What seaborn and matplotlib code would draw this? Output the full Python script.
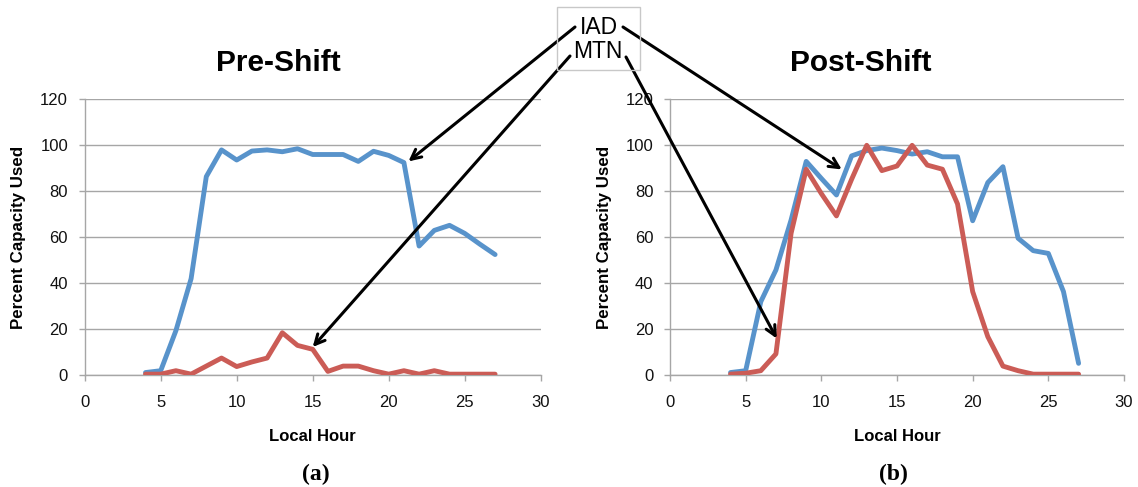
import numpy as np
import pandas as pd
import matplotlib
matplotlib.use("Agg")
import matplotlib.pyplot as plt
import seaborn as sns
from matplotlib.patches import Rectangle

# ---- data ----
hours = list(range(4, 28))
pre_iad = [1.2, 2, 19.4, 42, 86.4, 98, 93.6, 97.5, 98, 97.2, 98.5, 96, 96, 96,
           93, 97.4, 95.6, 92.5, 56.2, 63, 65.2, 61.7, 57, 52.5]
pre_mtn = [0.5, 0.5, 2, 0.5, 4, 7.5, 3.8, 5.8, 7.5, 18.5, 13, 11.3, 1.7, 4,
           4, 2, 0.5, 2, 0.5, 2, 0.5, 0.5, 0.5, 0.5]
post_iad = [1.2, 2, 32, 45.8, 67.5, 93, 85.6, 78.4, 95.4, 97.7, 98.8, 97.7, 96.2, 97.2,
            95, 95, 67.2, 83.8, 90.7, 59.6, 54.2, 53, 36.4, 5.2]
post_mtn = [0.5, 0.9, 2, 9.3, 61.7, 89.6, 79, 69.3, 85.2, 100, 89, 91, 100, 91.4,
            89.6, 74.5, 36.4, 16.8, 4, 2, 0.5, 0.5, 0.5, 0.5]
series_names = ["IAD", "MTN"]
titles = ["Pre-Shift", "Post-Shift"]
panel_labels = ["(a)", "(b)"]
x_ticks = [0, 5, 10, 15, 20, 25, 30]
y_ticks = [0, 20, 40, 60, 80, 100, 120]

sns.set_style("white")
plt.rcParams["font.family"] = ["Liberation Sans", "DejaVu Sans"]
plt.rcParams["text.color"] = "black"
plt.rcParams["axes.labelcolor"] = "black"
plt.rcParams["xtick.color"] = "black"
plt.rcParams["ytick.color"] = "black"

colors = {"IAD": "#5893CB", "MTN": "#CB5C56"}
grid_c = "#A6A6A6"

fig = plt.figure(figsize=(11.38, 4.87), dpi=100)
W, H = 1138, 487
ax1 = fig.add_axes([84.7 / W, 1 - 375.3 / H, 456 / W, 276 / H])
ax2 = fig.add_axes([670 / W, 1 - 375.3 / H, 454 / W, 276 / H])

datasets = [(pre_iad, pre_mtn), (post_iad, post_mtn)]
for ax, (iad, mtn), title, plab in zip([ax1, ax2], datasets, titles, panel_labels):
    df = pd.DataFrame({
        "hour": hours + hours,
        "value": iad + mtn,
        "site": ["IAD"] * len(hours) + ["MTN"] * len(hours),
    })
    sns.lineplot(data=df, x="hour", y="value", hue="site", palette=colors,
                 linewidth=3.5, ax=ax, legend=False, zorder=3)
    ax.set_xlim(0, 30)
    ax.set_ylim(0, 120)
    ax.set_xticks(x_ticks)
    ax.set_yticks(y_ticks)
    ax.yaxis.grid(True, color=grid_c, lw=1.0)
    ax.xaxis.grid(False)
    for s in ["top", "right"]:
        ax.spines[s].set_visible(False)
    for s in ["left", "bottom"]:
        ax.spines[s].set_color(grid_c)
        ax.spines[s].set_linewidth(1.0)
    ax.tick_params(axis="x", direction="out", length=4, width=1, color=grid_c,
                   labelcolor="#111111", labelsize=12, pad=10, bottom=True)
    ax.tick_params(axis="y", direction="out", length=4, width=1, color=grid_c,
                   labelcolor="#111111", labelsize=12, pad=8, left=True)
    ax.set_xlabel("")
    ax.set_ylabel("")
    ax.text(-0.145, 0.5, "Percent Capacity Used", transform=ax.transAxes,
            rotation=90, ha="center", va="center", fontsize=12.2, fontweight="bold")
    ax.text(0.5, -0.193, "Local Hour", transform=ax.transAxes,
            ha="center", va="top", fontsize=12, fontweight="bold")

fig.text(278 / W, 1 - 70.7 / H, titles[0], ha="center", va="baseline",
         fontsize=21.5, fontweight="bold")
fig.text(861 / W, 1 - 70.7 / H, titles[1], ha="center", va="baseline",
         fontsize=21.5, fontweight="bold")
fig.text(316 / W, 1 - 480 / H, panel_labels[0], ha="center", va="baseline",
         fontsize=17, fontweight="bold", family=["Liberation Serif"])
fig.text(893 / W, 1 - 480 / H, panel_labels[1], ha="center", va="baseline",
         fontsize=17, fontweight="bold", family=["Liberation Serif"])

# legend box
fig.patches.append(Rectangle((557 / W, 1 - 70 / H), 83 / W, 63 / H,
                             transform=fig.transFigure, fill=False,
                             edgecolor="#C8C8C8", lw=1.0))
fig.text(599 / W, 1 - 27 / H, series_names[0], ha="center", va="center", fontsize=16.5)
fig.text(598 / W, 1 - 52 / H, series_names[1], ha="center", va="center", fontsize=16.5)

aprops = dict(arrowstyle="->,head_length=0.7,head_width=0.35", lw=2.2,
              color="black", shrinkA=0, shrinkB=0)
ax1.annotate("", xy=(21.3, 93), xycoords="data", xytext=(575, H - 27),
             textcoords="figure pixels", arrowprops=aprops, annotation_clip=False)
ax1.annotate("", xy=(15.0, 12.3), xycoords="data", xytext=(570, H - 56),
             textcoords="figure pixels", arrowprops=aprops, annotation_clip=False)
ax2.annotate("", xy=(11.35, 89.5), xycoords="data", xytext=(623, H - 27),
             textcoords="figure pixels", arrowprops=aprops, annotation_clip=False)
ax2.annotate("", xy=(7.05, 16), xycoords="data", xytext=(626, H - 57),
             textcoords="figure pixels", arrowprops=aprops, annotation_clip=False)

fig.savefig("out.png", dpi=100)
